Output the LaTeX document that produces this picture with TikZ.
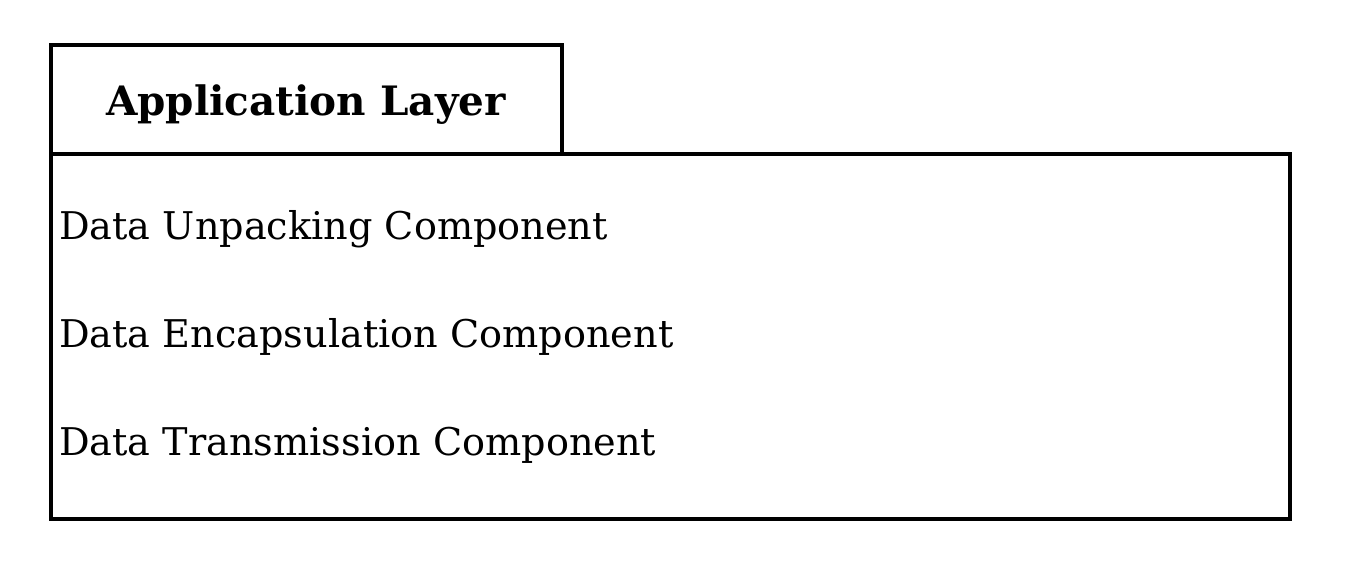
\documentclass[tikz,border=0pt]{standalone}
\usepackage{fontspec}
\setmainfont{DejaVu Serif}
\begin{document}
\begin{tikzpicture}[x=1pt,y=-1pt,
  frame/.style={draw=black,line width=3.2pt},
  title/.style={font=\fontsize{40.5}{46}\selectfont\bfseries},
  item/.style={anchor=west,inner sep=0pt,font=\fontsize{38.2}{44}\selectfont}]
  \useasboundingbox (0,0) rectangle (1357,571);
  % package tab and body
  \draw[frame] (51,45) rectangle (562,154);
  \draw[frame] (51,154) rectangle (1290,519);
  \node[title] (tab) at (306,105) {Application Layer};
  \node[item] (unpack) at (59,229) {Data Unpacking Component};
  \node[item] (encap) at (59,337) {Data Encapsulation Component};
  \node[item] (trans) at (59,445) {Data Transmission Component};
\end{tikzpicture}
\end{document}
